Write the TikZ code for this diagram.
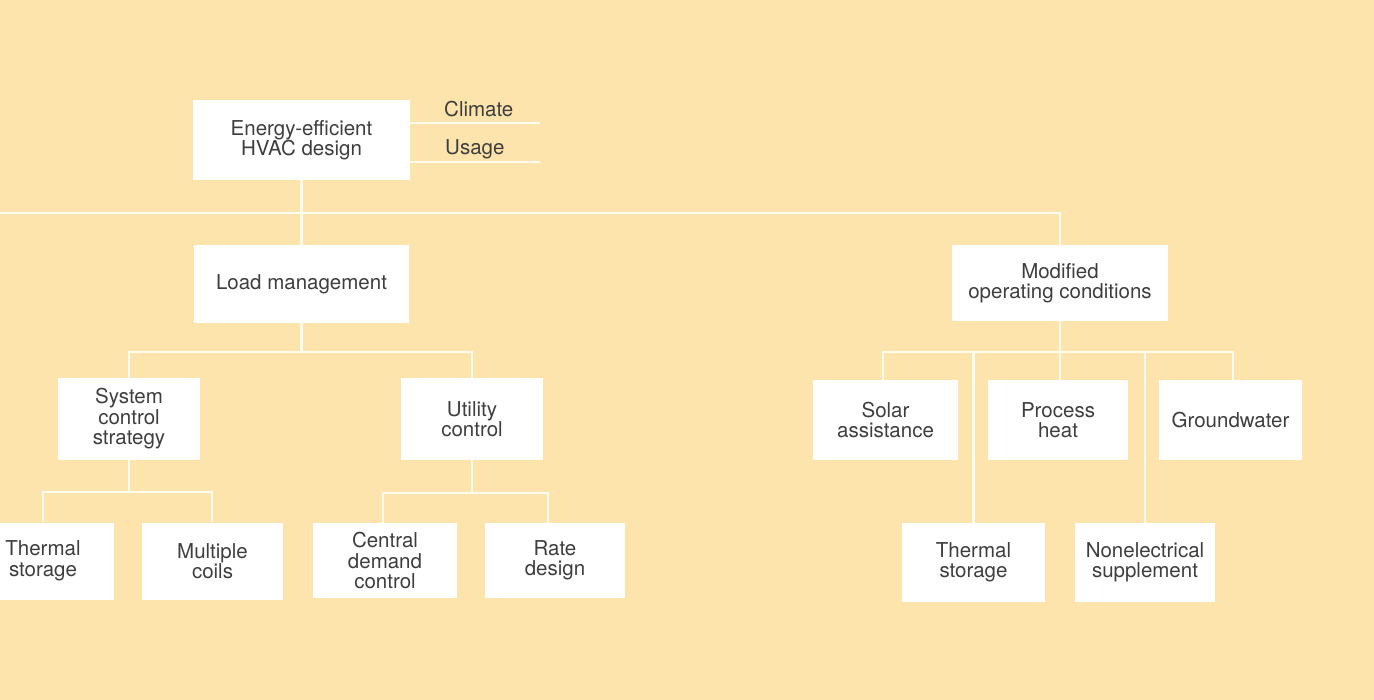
\documentclass[tikz,border=0pt]{standalone}
\usepackage{fontspec}
\setmainfont{TeX Gyre Heros}
\definecolor{bg}{RGB}{253,228,172}
\definecolor{linec}{RGB}{255,251,238}
\definecolor{txt}{RGB}{62,62,62}
\begin{document}
\begin{tikzpicture}[x=1pt,y=-1pt,
  box/.style={fill=white, inner sep=0pt, align=center, text=txt,
    font=\fontsize{20.5}{20.5}\selectfont, minimum width=142pt, minimum height=80pt},
  conn/.style={draw=linec, line width=2.2pt},
  lbl/.style={text=txt, inner sep=0pt, font=\fontsize{20.5}{20.5}\selectfont}]
\fill[bg] (0,0) rectangle (1374,700);
\useasboundingbox (0,0) rectangle (1374,700);

% nodes
\node[box, minimum width=217pt, minimum height=80pt] (top) at (301.5,140) {Energy-efficient\\HVAC design};
\node[lbl, anchor=base west] (clim) at (444,117) {Climate};
\node[lbl, anchor=base west] (usage) at (445,155) {Usage};
\node[box, minimum width=215pt, minimum height=78pt] (load) at (301.5,284) {Load management};
\node[box, minimum width=216pt, minimum height=76pt] (mod) at (1060,283) {Modified\\operating conditions};

\node[box, minimum height=82pt] (sys) at (129,419) {System\\control\\strategy};
\node[box, minimum height=82pt] (util) at (472,419) {Utility\\control};
\node[box, minimum width=145pt] (solar) at (885.5,420) {Solar\\assistance};
\node[box, minimum width=140pt] (proc) at (1058,420) {Process\\heat};
\node[box, minimum width=143pt] (ground) at (1230.5,420) {Groundwater};

\node[box, minimum width=141pt, minimum height=77pt] (th1) at (43,561) {Thermal\\storage};
\node[box, minimum width=141pt, minimum height=77pt] (multi) at (212.5,561) {Multiple\\coils};
\node[box, minimum width=144pt, minimum height=75pt] (central) at (385,560.5) {Central\\demand\\control};
\node[box, minimum width=140pt, minimum height=75pt] (rate) at (555,560.5) {Rate\\design};
\node[box, minimum width=143pt, minimum height=79pt] (th2) at (973.5,562.5) {Thermal\\storage};
\node[box, minimum width=140pt, minimum height=79pt] (nonel) at (1145,562.5) {Nonelectrical\\supplement};

% free ends
\coordinate (ce) at (540,123);
\coordinate (ue) at (540,162);
\coordinate (hl) at (0,213);

% connectors
\draw[conn] (top.east |- ce) -- (ce);
\draw[conn] (top.east |- ue) -- (ue);
\draw[conn] (top.south) -- (load.north);
\draw[conn] (hl) -| (mod.north);

\draw[conn] (load.south) -- ++(0,29) -| (sys.north);
\draw[conn] (load.south) -- ++(0,29) -| (util.north);

\draw[conn] (sys.south) -- ++(0,32) -| (th1.north);
\draw[conn] (sys.south) -- ++(0,32) -| ([xshift=-0.5pt]multi.north);

\draw[conn] (util.south) -- ++(0,32.5) -| ([xshift=-2pt]central.north);
\draw[conn] (util.south) -- ++(0,32.5) -| ([xshift=-7pt]rate.north);

\draw[conn] (mod.south) -- ++(0,31) -| ([xshift=-2.5pt]solar.north);
\draw[conn] (mod.south) -- ++(0,31) -| ([xshift=2pt]proc.north);
\draw[conn] (mod.south) -- ++(0,31) -| ([xshift=2.5pt]ground.north);
\draw[conn] (mod.south) -- ++(0,31) -| (th2.north);
\draw[conn] (mod.south) -- ++(0,31) -| (nonel.north);
\end{tikzpicture}
\end{document}
